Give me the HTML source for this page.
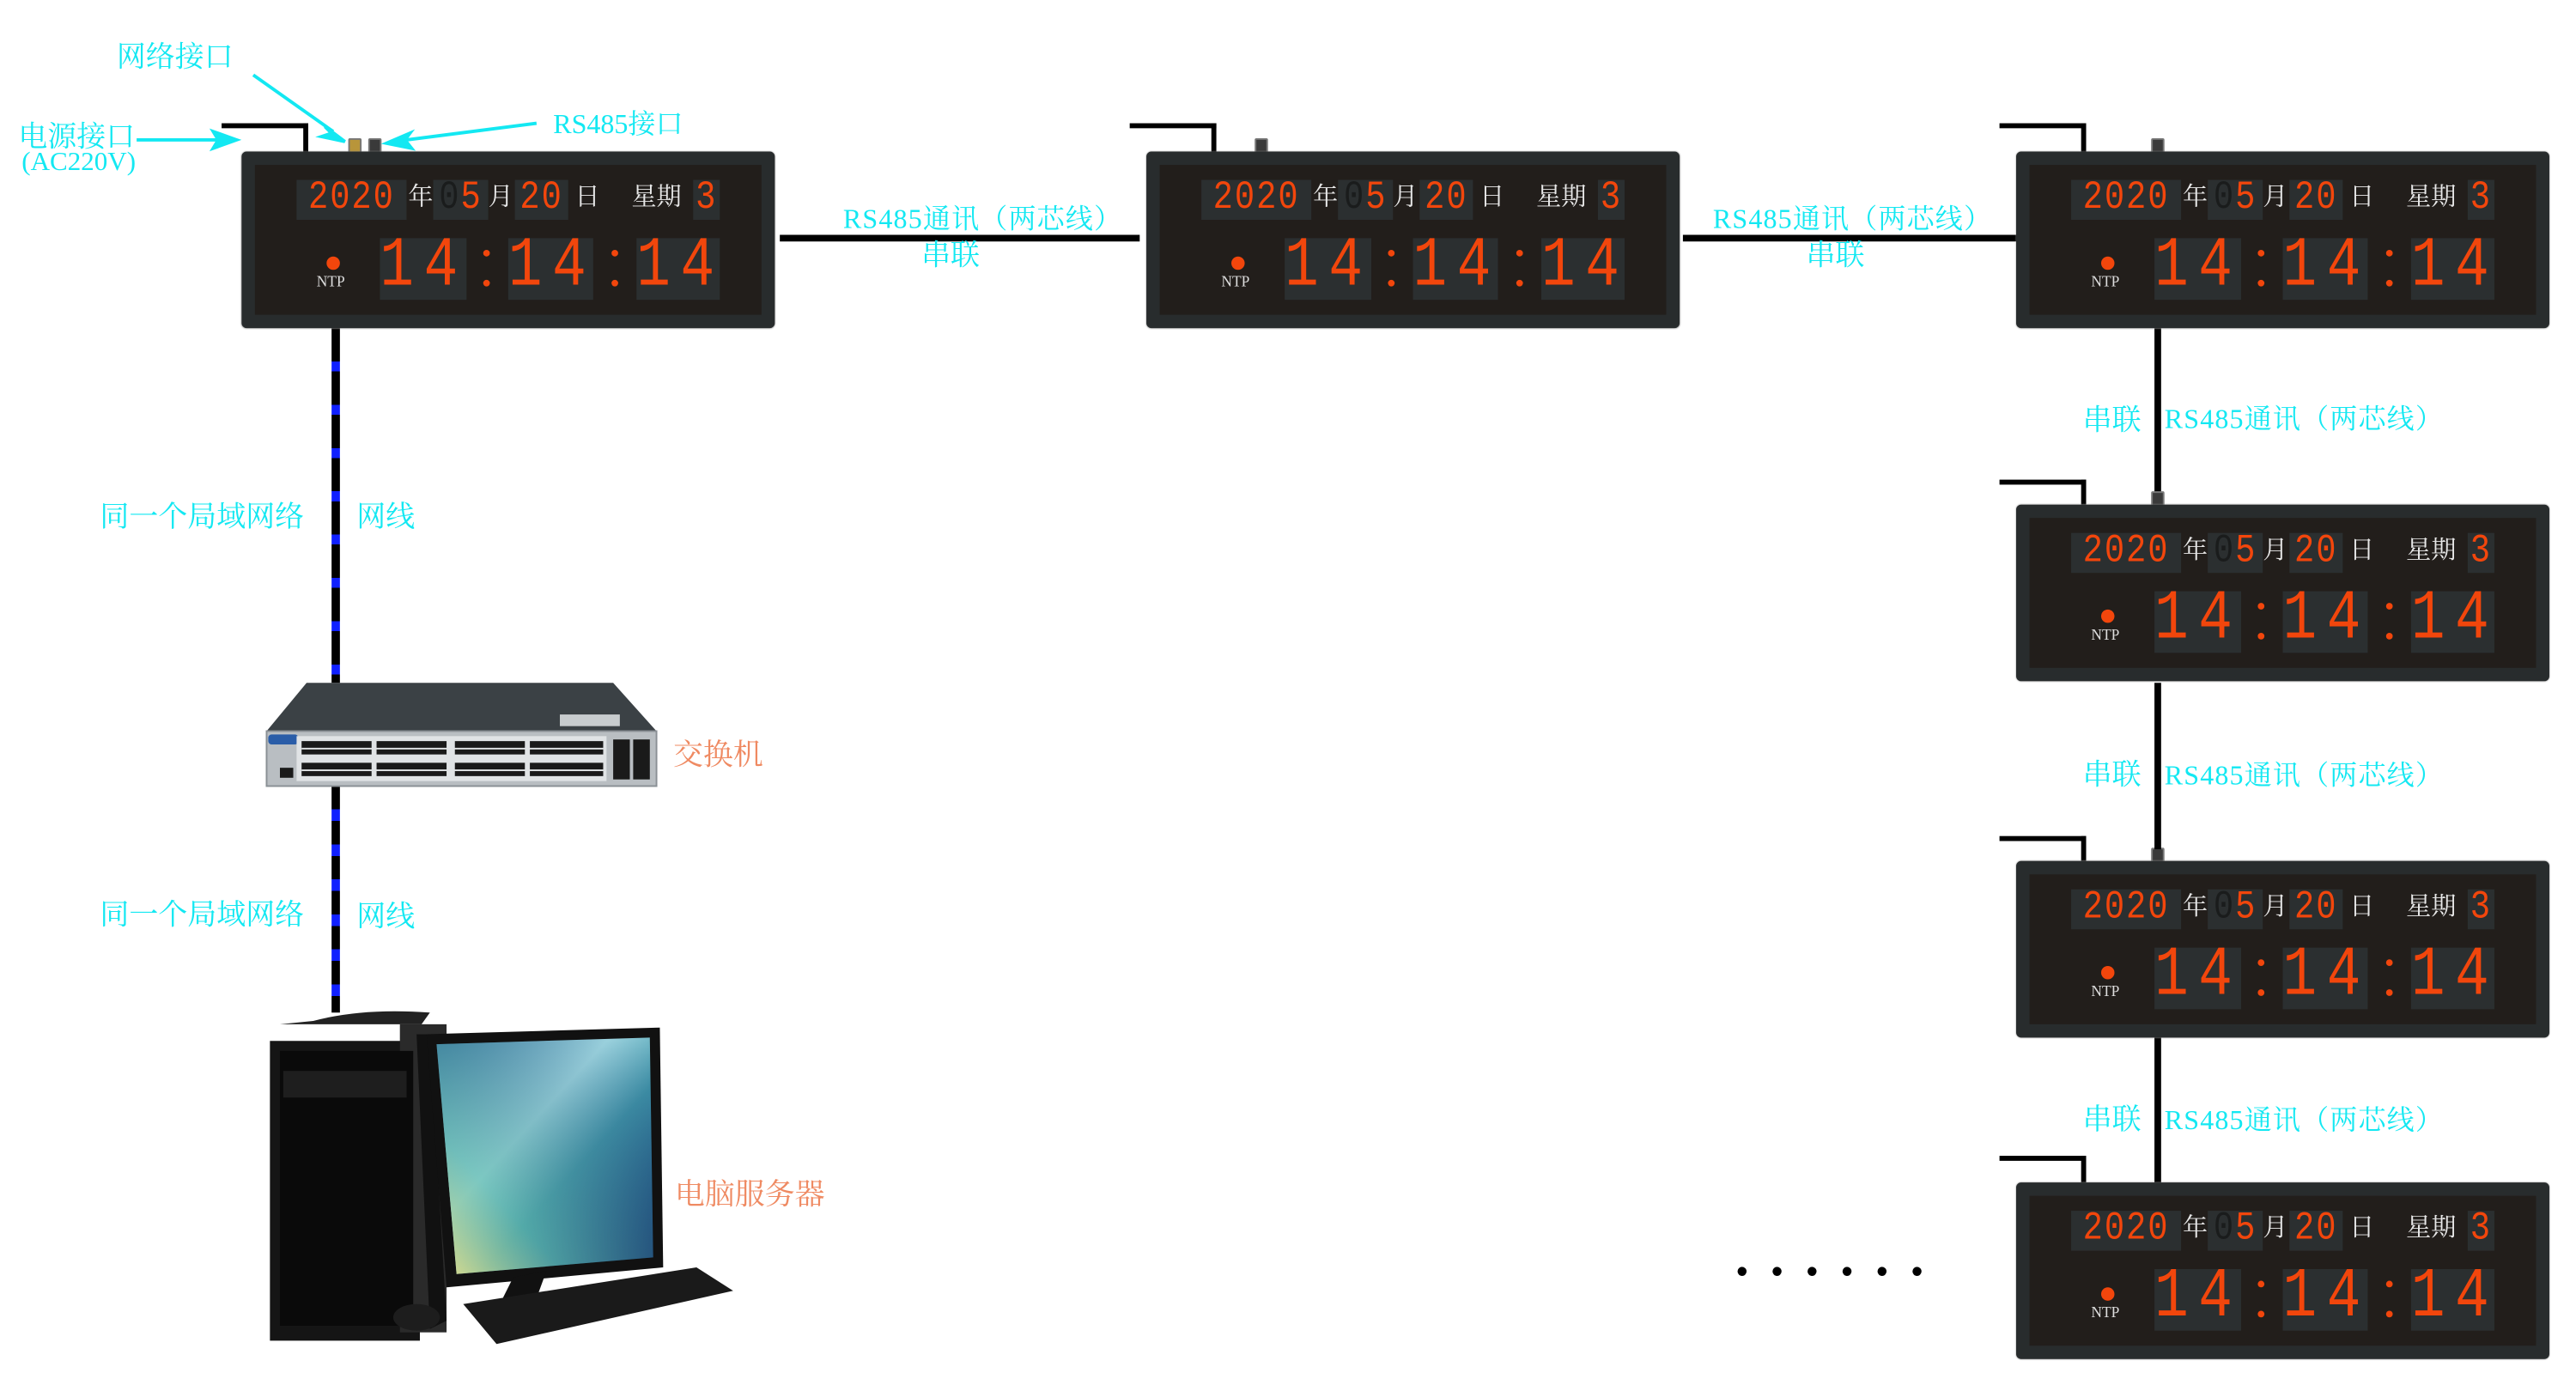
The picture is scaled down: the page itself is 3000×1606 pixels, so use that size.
<!DOCTYPE html>
<html><head><meta charset="utf-8">
<style>
html,body{margin:0;padding:0;background:#fff;width:3000px;height:1606px;overflow:hidden}
#s{position:absolute;left:0;top:0;width:1546px;height:828px;transform:scale(1.9405,1.9396);transform-origin:0 0;font-family:"Liberation Serif","Noto Serif CJK SC",serif}
.a{position:absolute}
.cy{position:absolute;color:#13e8f2;font-size:17.5px;white-space:nowrap;line-height:1}
.rs{font-size:16.5px;letter-spacing:0.6px}
.or{position:absolute;color:#ef8a62;font-size:18px;white-space:nowrap;line-height:1}
.ck{position:absolute;width:320px;height:106px;background:#282c2d;border-radius:3px;box-shadow:0 0 1px #888}
.ck .in{position:absolute;left:8px;top:8px;right:8px;bottom:8px;background:#221e1b}
.ck .b{position:absolute;top:17px;height:24px;background:#2b2f30;color:#f2460c;font-family:"Liberation Mono",monospace;font-size:20px;line-height:24px;text-align:center;letter-spacing:1px;overflow:hidden}
.ck .b i{font-style:normal;display:inline-block;transform:scaleY(1.2)}
.ck .b span.d{color:#1a1c1c}
.ck .tb{position:absolute;top:52px;height:37px;background:#2b2f30;color:#f2460c;font-family:"Liberation Mono",monospace;font-size:34px;line-height:37px;text-align:center;letter-spacing:6px;overflow:hidden}
.ck .tb i{font-style:normal;display:inline-block;transform:scaleY(1.25)}
.ck .w{position:absolute;top:19px;color:#e8e8e8;font-size:15px;line-height:18px;font-family:"Liberation Serif","Noto Serif CJK SC",serif}
.ck .dot{position:absolute;left:51px;top:63px;width:8px;height:8px;border-radius:50%;background:#f2460c}
.ck .ntp{position:absolute;left:45px;top:73px;color:#ddd;font-size:9px;font-family:"Liberation Serif",serif}
.ck .c{position:absolute;width:4px;height:4px;border-radius:50%;background:#f2460c}
.ln{position:absolute;background:#000}
.plug{position:absolute;width:6px;height:8px;background:#3a3a3a;border:1px solid #777;border-radius:1px}
</style></head><body><div id="s">

<div class="ln" style="left:133px;top:74px;width:52px;height:3px"></div><div class="ln" style="left:182px;top:74px;width:3px;height:17px"></div>
<div class="ln" style="left:678px;top:74px;width:52px;height:3px"></div><div class="ln" style="left:727px;top:74px;width:3px;height:17px"></div>
<div class="ln" style="left:1200px;top:74px;width:52px;height:3px"></div><div class="ln" style="left:1249px;top:74px;width:3px;height:17px"></div>
<div class="ln" style="left:1200px;top:288px;width:52px;height:3px"></div><div class="ln" style="left:1249px;top:288px;width:3px;height:15px"></div>
<div class="ln" style="left:1200px;top:502px;width:52px;height:3px"></div><div class="ln" style="left:1249px;top:502px;width:3px;height:15px"></div>
<div class="ln" style="left:1200px;top:694px;width:52px;height:3px"></div><div class="ln" style="left:1249px;top:694px;width:3px;height:16px"></div>

<div class="plug" style="left:209px;top:83px;background:#b8953a"></div>
<div class="plug" style="left:221px;top:83px"></div>
<div class="plug" style="left:753px;top:83px"></div>
<div class="plug" style="left:1291px;top:83px"></div>
<div class="plug" style="left:1291px;top:295px"></div>
<div class="plug" style="left:1291px;top:509px"></div>

<div class="ln" style="left:468px;top:141px;width:216px;height:4px"></div>
<div class="ln" style="left:1010px;top:141px;width:200px;height:4px"></div>
<div class="ln" style="left:1293px;top:197px;width:4px;height:98px"></div>
<div class="ln" style="left:1293px;top:410px;width:4px;height:100px"></div>
<div class="ln" style="left:1293px;top:623px;width:4px;height:87px"></div>

<div class="a" style="left:199px;top:197px;width:5px;height:213px;background:repeating-linear-gradient(#000 0 20px,#1020ff 20px 26px)"></div>
<div class="a" style="left:199px;top:472px;width:5px;height:136px;background:repeating-linear-gradient(#000 0 14px,#1020ff 14px 21px)"></div>

<svg class="a" style="left:0;top:0" width="400" height="120">
<g stroke="#13e8f2" stroke-width="2" fill="#13e8f2">
<line x1="82" y1="84" x2="132" y2="84"/><polygon points="142,84 128,79 131,84 128,89"/>
<line x1="152" y1="45" x2="200" y2="79"/><polygon points="207,85 195,76 199,80 193,82"/>
<line x1="322" y1="74" x2="244" y2="84"/><polygon points="232,86 246,80 243,84 247,89"/>
</g></svg>
<div class="cy" style="left:70px;top:26px">网络接口</div>
<div class="cy" style="left:11px;top:74px">电源接口</div>
<div class="cy" style="left:13px;top:90px;font-size:16px">(AC220V)</div>
<div class="cy" style="left:332px;top:67px;font-size:16.5px">RS485接口</div>

<div class="cy rs" style="left:506px;top:124px">RS485通讯（两芯线）</div>
<div class="cy" style="left:553px;top:145px">串联</div>
<div class="cy rs" style="left:1028px;top:124px">RS485通讯（两芯线）</div>
<div class="cy" style="left:1084px;top:145px">串联</div>
<div class="cy" style="left:1250px;top:244px">串联</div><div class="cy rs" style="left:1299px;top:244px">RS485通讯（两芯线）</div>
<div class="cy" style="left:1250px;top:457px">串联</div><div class="cy rs" style="left:1299px;top:458px">RS485通讯（两芯线）</div>
<div class="cy" style="left:1250px;top:664px">串联</div><div class="cy rs" style="left:1299px;top:665px">RS485通讯（两芯线）</div>

<div class="cy" style="left:60px;top:302px">同一个局域网络</div><div class="cy" style="left:214px;top:302px">网线</div>
<div class="cy" style="left:60px;top:541px">同一个局域网络</div><div class="cy" style="left:214px;top:542px">网线</div>
<div class="or" style="left:404px;top:444px">交换机</div>
<div class="or" style="left:405px;top:708px">电脑服务器</div>

<div class="a" style="left:1042px;top:753px;font-size:20px;letter-spacing:14px;font-family:'Liberation Sans',sans-serif;color:#000">••••••</div>

<svg class="a" style="left:158px;top:409px" width="240" height="66">
<polygon points="26,1 210,1 236,30 2,30" fill="#3b4145"/>
<rect x="178" y="20" width="36" height="7" fill="#c8ccce"/>
<rect x="2" y="30" width="234" height="33" fill="#b9bec2" stroke="#8a9095"/>
<rect x="3" y="32" width="18" height="6" fill="#2a5da8" rx="2"/>
<rect x="20" y="33" width="186" height="27" fill="#e0e3e5"/>
<g fill="#1a1a1a">
<rect x="23" y="36" width="42" height="8"/><rect x="23" y="49" width="42" height="8"/>
<rect x="68" y="36" width="42" height="8"/><rect x="68" y="49" width="42" height="8"/>
<rect x="115" y="36" width="42" height="8"/><rect x="115" y="49" width="42" height="8"/>
<rect x="160" y="36" width="44" height="8"/><rect x="160" y="49" width="44" height="8"/>
<rect x="210" y="35" width="10" height="24"/><rect x="222" y="35" width="10" height="24"/>
<rect x="10" y="52" width="8" height="6"/>
</g>
<g fill="#e0e3e5"><rect x="23" y="40" width="181" height="1"/><rect x="23" y="53" width="181" height="1"/></g>
</svg>

<svg class="a" style="left:158px;top:603px" width="290" height="215">
<defs><linearGradient id="sc" x1="0" y1="0" x2="1" y2="1"><stop offset="0" stop-color="#3d7fa6"/><stop offset=".4" stop-color="#a8e0e8"/><stop offset=".6" stop-color="#3f93a8"/><stop offset="1" stop-color="#0e2a6a"/></linearGradient>
<linearGradient id="sc2" x1="0" y1="1" x2="1" y2="0"><stop offset="0" stop-color="#e8e08a"/><stop offset=".3" stop-color="#5fb8a8" stop-opacity=".6"/><stop offset="1" stop-color="#0e2a6a" stop-opacity="0"/></linearGradient></defs>
<path d="M30,10 Q60,2 100,5 L95,12 L10,12 Z" fill="#222"/>
<rect x="4" y="22" width="90" height="180" fill="#151515"/>
<rect x="82" y="12" width="28" height="185" fill="#2a2a2a"/>
<rect x="10" y="28" width="80" height="165" fill="#0a0a0a"/>
<rect x="12" y="40" width="74" height="16" fill="#1e1e1e"/>
<polygon points="92,18 100,18 110,190 100,195" fill="#111"/>
<polygon points="98,18 238,14 240,158 110,170" fill="#111"/>
<polygon points="104,24 232,20 234,152 116,162" fill="url(#sc)"/>
<polygon points="104,24 232,20 234,152 116,162" fill="url(#sc2)"/>
<polygon points="150,164 170,160 162,182 140,184" fill="#111"/>
<polygon points="120,180 260,158 282,172 140,204" fill="#1a1a1a"/>
<ellipse cx="92" cy="188" rx="14" ry="8" fill="#1d1d1d"/>
</svg>

<div class="ck" style="left:145px;top:91px"><div class="in"></div>
<div class="b" style="left:33px;width:66px"><i>2020</i></div><div class="w" style="left:100px">年</div>
<div class="b" style="left:115px;width:33px"><i><span class="d">0</span>5</i></div><div class="w" style="left:148px">月</div>
<div class="b" style="left:164px;width:32px"><i>20</i></div><div class="w" style="left:200px">日</div>
<div class="w" style="left:234px">星期</div><div class="b" style="left:271px;width:16px"><i>3</i></div>
<div class="dot"></div><div class="ntp">NTP</div>
<div class="tb" style="left:83px;width:52px"><i>14</i></div><div class="tb" style="left:160px;width:51px"><i>14</i></div><div class="tb" style="left:237px;width:50px"><i>14</i></div>
<div class="c" style="left:145px;top:59px"></div><div class="c" style="left:145px;top:77px"></div><div class="c" style="left:222px;top:59px"></div><div class="c" style="left:222px;top:77px"></div>
</div>

<div class="ck" style="left:688px;top:91px"><div class="in"></div>
<div class="b" style="left:33px;width:66px"><i>2020</i></div><div class="w" style="left:100px">年</div>
<div class="b" style="left:115px;width:33px"><i><span class="d">0</span>5</i></div><div class="w" style="left:148px">月</div>
<div class="b" style="left:164px;width:32px"><i>20</i></div><div class="w" style="left:200px">日</div>
<div class="w" style="left:234px">星期</div><div class="b" style="left:271px;width:16px"><i>3</i></div>
<div class="dot"></div><div class="ntp">NTP</div>
<div class="tb" style="left:83px;width:52px"><i>14</i></div><div class="tb" style="left:160px;width:51px"><i>14</i></div><div class="tb" style="left:237px;width:50px"><i>14</i></div>
<div class="c" style="left:145px;top:59px"></div><div class="c" style="left:145px;top:77px"></div><div class="c" style="left:222px;top:59px"></div><div class="c" style="left:222px;top:77px"></div>
</div>

<div class="ck" style="left:1210px;top:91px"><div class="in"></div>
<div class="b" style="left:33px;width:66px"><i>2020</i></div><div class="w" style="left:100px">年</div>
<div class="b" style="left:115px;width:33px"><i><span class="d">0</span>5</i></div><div class="w" style="left:148px">月</div>
<div class="b" style="left:164px;width:32px"><i>20</i></div><div class="w" style="left:200px">日</div>
<div class="w" style="left:234px">星期</div><div class="b" style="left:271px;width:16px"><i>3</i></div>
<div class="dot"></div><div class="ntp">NTP</div>
<div class="tb" style="left:83px;width:52px"><i>14</i></div><div class="tb" style="left:160px;width:51px"><i>14</i></div><div class="tb" style="left:237px;width:50px"><i>14</i></div>
<div class="c" style="left:145px;top:59px"></div><div class="c" style="left:145px;top:77px"></div><div class="c" style="left:222px;top:59px"></div><div class="c" style="left:222px;top:77px"></div>
</div>

<div class="ck" style="left:1210px;top:303px"><div class="in"></div>
<div class="b" style="left:33px;width:66px"><i>2020</i></div><div class="w" style="left:100px">年</div>
<div class="b" style="left:115px;width:33px"><i><span class="d">0</span>5</i></div><div class="w" style="left:148px">月</div>
<div class="b" style="left:164px;width:32px"><i>20</i></div><div class="w" style="left:200px">日</div>
<div class="w" style="left:234px">星期</div><div class="b" style="left:271px;width:16px"><i>3</i></div>
<div class="dot"></div><div class="ntp">NTP</div>
<div class="tb" style="left:83px;width:52px"><i>14</i></div><div class="tb" style="left:160px;width:51px"><i>14</i></div><div class="tb" style="left:237px;width:50px"><i>14</i></div>
<div class="c" style="left:145px;top:59px"></div><div class="c" style="left:145px;top:77px"></div><div class="c" style="left:222px;top:59px"></div><div class="c" style="left:222px;top:77px"></div>
</div>

<div class="ck" style="left:1210px;top:517px"><div class="in"></div>
<div class="b" style="left:33px;width:66px"><i>2020</i></div><div class="w" style="left:100px">年</div>
<div class="b" style="left:115px;width:33px"><i><span class="d">0</span>5</i></div><div class="w" style="left:148px">月</div>
<div class="b" style="left:164px;width:32px"><i>20</i></div><div class="w" style="left:200px">日</div>
<div class="w" style="left:234px">星期</div><div class="b" style="left:271px;width:16px"><i>3</i></div>
<div class="dot"></div><div class="ntp">NTP</div>
<div class="tb" style="left:83px;width:52px"><i>14</i></div><div class="tb" style="left:160px;width:51px"><i>14</i></div><div class="tb" style="left:237px;width:50px"><i>14</i></div>
<div class="c" style="left:145px;top:59px"></div><div class="c" style="left:145px;top:77px"></div><div class="c" style="left:222px;top:59px"></div><div class="c" style="left:222px;top:77px"></div>
</div>

<div class="ck" style="left:1210px;top:710px"><div class="in"></div>
<div class="b" style="left:33px;width:66px"><i>2020</i></div><div class="w" style="left:100px">年</div>
<div class="b" style="left:115px;width:33px"><i><span class="d">0</span>5</i></div><div class="w" style="left:148px">月</div>
<div class="b" style="left:164px;width:32px"><i>20</i></div><div class="w" style="left:200px">日</div>
<div class="w" style="left:234px">星期</div><div class="b" style="left:271px;width:16px"><i>3</i></div>
<div class="dot"></div><div class="ntp">NTP</div>
<div class="tb" style="left:83px;width:52px"><i>14</i></div><div class="tb" style="left:160px;width:51px"><i>14</i></div><div class="tb" style="left:237px;width:50px"><i>14</i></div>
<div class="c" style="left:145px;top:59px"></div><div class="c" style="left:145px;top:77px"></div><div class="c" style="left:222px;top:59px"></div><div class="c" style="left:222px;top:77px"></div>
</div>

</div></body></html>
